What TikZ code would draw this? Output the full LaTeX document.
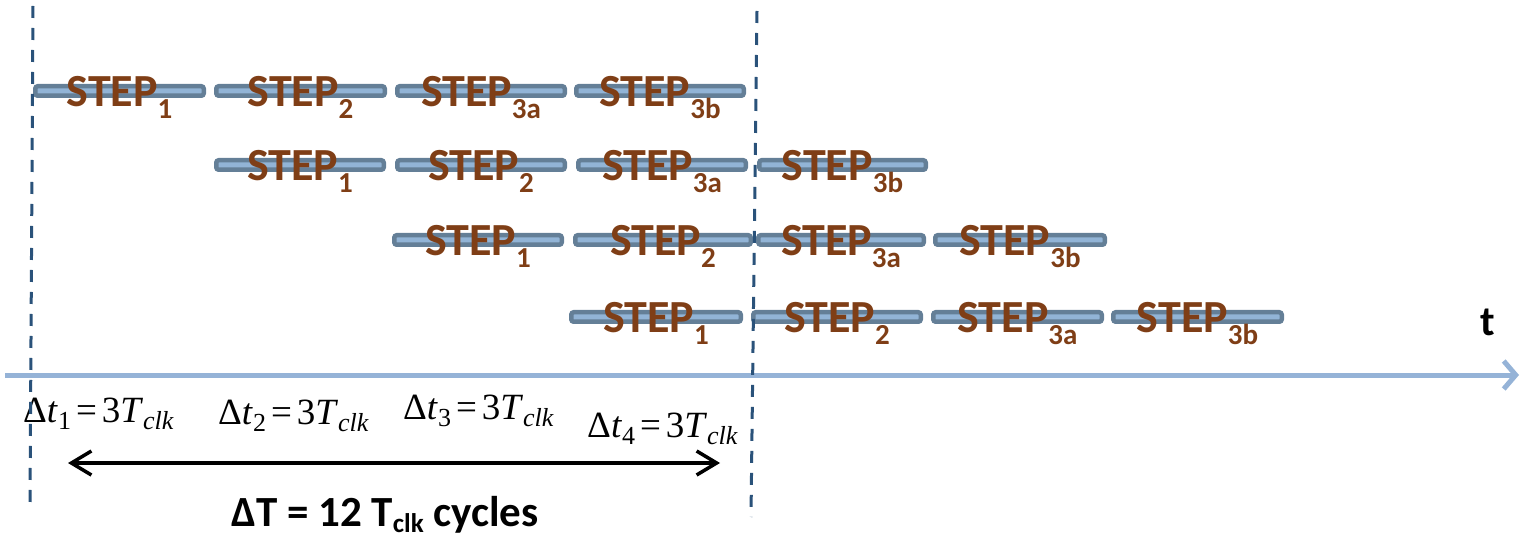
\documentclass[tikz,border=0pt]{standalone}
\usepackage{fontspec}
\setmainfont{Carlito}
\newfontfamily\tnr{Liberation Serif}
\usetikzlibrary{arrows.meta}
\definecolor{barline}{RGB}{100,127,151}
\definecolor{barfill}{RGB}{146,180,214}
\definecolor{steptxt}{RGB}{127,62,22}
\definecolor{dashcol}{RGB}{42,82,122}
\definecolor{axiscol}{RGB}{149,179,215}
\newcommand\stp[1]{STEP\raisebox{-12pt}{\fontsize{29}{29}\selectfont #1}}
\newcommand\dtl[1]{{\tnr\fontsize{37}{37}\selectfont Δ\textit{t}\raisebox{-7pt}{\fontsize{26}{26}\selectfont #1}\hspace{5pt}=\hspace{5pt}3\textit{T}\raisebox{-7pt}{\fontsize{26}{26}\selectfont\itshape clk}}}
\begin{document}
\begin{tikzpicture}[x=1pt,y=-1pt,
  bar/.style={draw=barline, fill=barfill, line width=4.5pt, rounded corners=2.5pt, inner sep=0pt, minimum height=9.5pt},
  steplbl/.style={text=steptxt, font=\bfseries\fontsize{46}{46}\selectfont, anchor=base, inner sep=0pt, yshift=-16pt},
  dashline/.style={draw=dashcol, line width=3pt, dash pattern=on 12pt off 10pt},
  axis/.style={draw=axiscol, line width=5pt, -{Straight Barb[length=12pt,width=28pt]}},
  dbl/.style={draw=black, line width=3.5pt, {Straight Barb[length=20pt,width=24pt]}-{Straight Barb[length=20pt,width=24pt]}},
  mathlbl/.style={anchor=base west, inner sep=0pt}
]
\useasboundingbox (0,0) rectangle (1521,537);
% axis
\coordinate (ax0) at (5,375);
\coordinate (ax1) at (1519,375);
\draw[axis] (ax0) -- (ax1);
\node[font=\bfseries\fontsize{42}{42}\selectfont, anchor=base, inner sep=0pt] (tlbl) at (1488,336) {t};
% row 1
\node[bar, minimum width=168.5pt] (a1) at (119.5,91) {};
\node[bar, minimum width=168.5pt] (a2) at (300.5,91) {};
\node[bar, minimum width=167.5pt] (a3) at (481,91) {};
\node[bar, minimum width=167.5pt] (a4) at (660,91) {};
\node[steplbl] (ta1) at (a1.center) {\stp{1}};
\node[steplbl] (ta2) at (a2.center) {\stp{2}};
\node[steplbl] (ta3) at (a3.center) {\stp{3a}};
\node[steplbl] (ta4) at (a4.center) {\stp{3b}};
% row 2
\node[bar, minimum width=167.5pt] (b1) at (300,165) {};
\node[bar, minimum width=167.5pt] (b2) at (481,165) {};
\node[bar, minimum width=167.5pt] (b3) at (662,165) {};
\node[bar, minimum width=166.5pt] (b4) at (842.5,165) {};
\node[steplbl] (tb1) at (b1.center) {\stp{1}};
\node[steplbl] (tb2) at (b2.center) {\stp{2}};
\node[steplbl] (tb3) at (b3.center) {\stp{3a}};
\node[steplbl] (tb4) at (b4.center) {\stp{3b}};
% row 3
\node[bar, minimum width=167.5pt] (c1) at (478,240) {};
\node[bar, minimum width=175.5pt] (c2) at (663,240) {};
\node[bar, minimum width=165.5pt] (c3) at (841,240) {};
\node[bar, minimum width=169.5pt] (c4) at (1020,240) {};
\node[steplbl] (tc1) at (c1.center) {\stp{1}};
\node[steplbl] (tc2) at (c2.center) {\stp{2}};
\node[steplbl] (tc3) at (c3.center) {\stp{3a}};
\node[steplbl] (tc4) at (c4.center) {\stp{3b}};
% row 4
\node[bar, minimum width=169.5pt] (e1) at (656,317) {};
\node[bar, minimum width=167.5pt] (e2) at (837,317) {};
\node[bar, minimum width=168.5pt] (e3) at (1017.5,317) {};
\node[bar, minimum width=168.5pt] (e4) at (1197.5,317) {};
\node[steplbl] (te1) at (e1.center) {\stp{1}};
\node[steplbl] (te2) at (e2.center) {\stp{2}};
\node[steplbl] (te3) at (e3.center) {\stp{3a}};
\node[steplbl] (te4) at (e4.center) {\stp{3b}};
% math labels
\node[mathlbl] (m1) at (23,422) {\dtl{1}};
\node[mathlbl] (m2) at (218,424) {\dtl{2}};
\node[mathlbl] (m3) at (403,419) {\dtl{3}};
\node[mathlbl] (m4) at (587,437) {\dtl{4}};
% double arrow
\coordinate (al) at (68,463);
\coordinate (ar) at (720,463);
\draw[dbl] (al) -- (ar);
\node[font=\bfseries\fontsize{43}{43}\selectfont, anchor=base, inner sep=0pt] (dT) at (385,526) {ΔT = 12 T\raisebox{-6pt}{\fontsize{27}{27}\selectfont clk} cycles};
% dashed lines
\coordinate (d1t) at (33,6);
\coordinate (d1b) at (30,506);
\coordinate (d2t) at (757,11);
\coordinate (d2b) at (751,517);
\draw[dashline] (d1t) -- (d1b);
\draw[dashline] (d2t) -- (d2b);
\end{tikzpicture}
\end{document}
